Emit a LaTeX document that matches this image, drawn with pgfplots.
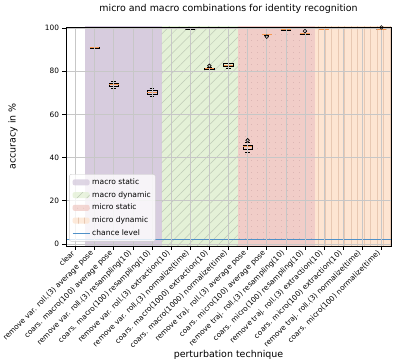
\documentclass[border=0pt]{standalone}
\usepackage{fontspec}
\setmainfont{DejaVu Sans}
\usepackage{pgfplots}
\pgfplotsset{compat=1.18}
\usepgfplotslibrary{statistics}
\usetikzlibrary{patterns.meta}

\definecolor{macstat}{RGB}{215,204,222}
\definecolor{macdyn}{RGB}{228,241,215}
\definecolor{micstat}{RGB}{241,205,200}
\definecolor{micdyn}{RGB}{253,229,210}
\definecolor{hatchgreen}{RGB}{190,202,182}
\definecolor{hatchred}{RGB}{205,165,165}
\definecolor{hatchorange}{RGB}{232,200,178}
\definecolor{medorange}{RGB}{245,150,80}
\definecolor{chanceblue}{RGB}{80,145,200}

\pgfplotsset{
  spanleg/.style={legend image code/.code={\fill[##1] (0bp,-3bp) rectangle (17bp,3bp);}},
  bx/.style={black, line width=0.6bp, mark=o, mark size=1.8bp, forget plot},
}

\begin{document}
\begin{tikzpicture}
\begin{axis}[
  at={(0,0)}, anchor=south west,
  scale only axis, width=325bp, height=219bp,
  xmin=-0.5, xmax=16.5, ymin=-1, ymax=100.5,
  xtick={0,...,16},
  xticklabels={{clear},
    {remove var. roll.(3) average pose},
    {coars. macro(100) average pose},
    {remove var. roll.(3) resampling(10)},
    {coars. macro(100) resampling(10)},
    {remove var. roll.(3) extraction(10)},
    {remove var. roll.(3) normalize(time)},
    {coars. macro(1000) extraction(10)},
    {coars. macro(1000) normalize(time)},
    {remove traj. roll.(3) average pose},
    {coars. micro(100) average pose},
    {remove traj. roll.(3) resampling(10)},
    {coars. micro(100) resampling(10)},
    {remove traj. roll.(3) extraction(10)},
    {coars. micro(100) extraction(10)},
    {remove traj. roll.(3) normalize(time)},
    {coars. micro(100) normalize(time)}},
  ytick={0,20,...,100},
  /pgf/number format/assume math mode=true,
  tick align=outside, major tick length=3.5bp,
  xtick pos=left, ytick pos=left,
  tick style={black, line width=0.6bp},
  ticklabel style={font=\fontsize{7.4}{8.8}\selectfont},
  xticklabel style={rotate=45, anchor=east},
  grid=major, grid style={draw=black!22, line width=0.6bp},
  axis on top,
  axis line style={line width=0.7bp},
  title={micro and macro combinations for identity recognition},
  title style={font=\fontsize{9.5}{11}\selectfont, at={(0.5,1)}, anchor=base, yshift=10bp},
  xlabel={perturbation technique},
  xlabel style={font=\fontsize{9.5}{11}\selectfont, at={(axis description cs:0.5,0)}, anchor=base, yshift=-111bp},
  ylabel={accuracy in \%},
  ylabel style={font=\fontsize{9.5}{11}\selectfont, at={(axis description cs:0,0.5)}, anchor=center, yshift=53bp},
  legend cell align=left,
  legend style={at={(0.01,0.02)}, anchor=south west,
    font=\fontsize{7.6}{9}\selectfont, draw=black!20, rounded corners=2bp,
    fill=white, fill opacity=0.8, text opacity=1, draw opacity=1, inner sep=2.5bp, row sep=1.5bp},
  boxplot/draw direction=y,
  boxplot/box extend=0.5,
  boxplot/whisker extend=0.25,
  boxplot/every median/.style={draw=medorange, line width=0.9bp},
]
% ---- background spans ----
\addplot[fill=macstat, draw=none, spanleg]
  coordinates {(0.5,-5) (0.5,105) (4.5,105) (4.5,-5)};
\addlegendentry{macro static}
\addplot[fill=macdyn, draw=none, spanleg,
  postaction={pattern={Lines[angle=45,distance=7bp,line width=0.5bp]}, pattern color=hatchgreen}]
  coordinates {(4.5,-5) (4.5,105) (8.5,105) (8.5,-5)};
\addlegendentry{macro dynamic}
\addplot[fill=micstat, draw=none, spanleg,
  postaction={pattern={Dots[distance=6bp,radius=0.45bp]}, pattern color=hatchred}]
  coordinates {(8.5,-5) (8.5,105) (12.5,105) (12.5,-5)};
\addlegendentry{micro static}
\addplot[fill=micdyn, draw=none, spanleg,
  postaction={pattern={Lines[angle=90,distance=6.5bp,line width=0.5bp]}, pattern color=hatchorange}]
  coordinates {(12.5,-5) (12.5,105) (16.5,105) (16.5,-5)};
\addlegendentry{micro dynamic}
% ---- boxes ----
\addplot[bx, boxplot prepared={draw position=0, lower whisker=100, lower quartile=100, median=100, upper quartile=100, upper whisker=100}] coordinates {};
\addplot[bx, boxplot prepared={draw position=1, lower whisker=90.7, lower quartile=90.8, median=91.0, upper quartile=91.2, upper whisker=91.3}] coordinates {};
\addplot[bx, boxplot prepared={draw position=2, lower whisker=72.2, lower quartile=73.2, median=73.8, upper quartile=74.6, upper whisker=75.2}] coordinates {};
\addplot[bx, boxplot prepared={draw position=3, lower whisker=100, lower quartile=100, median=100, upper quartile=100, upper whisker=100}] coordinates {};
\addplot[bx, boxplot prepared={draw position=4, lower whisker=68.2, lower quartile=69.5, median=70.3, upper quartile=71.3, upper whisker=72.2}] coordinates {};
\addplot[bx, boxplot prepared={draw position=5, lower whisker=100, lower quartile=100, median=100, upper quartile=100, upper whisker=100}] coordinates {};
\addplot[bx, boxplot prepared={draw position=6, lower whisker=99.6, lower quartile=99.6, median=99.6, upper quartile=99.6, upper whisker=99.6}] coordinates {};
\addplot[bx, boxplot prepared={draw position=7, lower whisker=81.0, lower quartile=81.1, median=81.3, upper quartile=81.5, upper whisker=81.7}] coordinates {(7,82.5)};
\addplot[bx, boxplot prepared={draw position=8, lower whisker=81.5, lower quartile=82.3, median=82.5, upper quartile=83.6, upper whisker=83.7}] coordinates {};
\addplot[bx, boxplot prepared={draw position=9, lower whisker=42.4, lower quartile=44.0, median=45.0, upper quartile=45.9, upper whisker=47.2}] coordinates {(9,48.0)};
\addplot[bx, boxplot prepared={draw position=10, lower whisker=96.6, lower quartile=96.9, median=97.1, upper quartile=97.2, upper whisker=97.3}] coordinates {(10,96.0)};
\addplot[bx, boxplot prepared={draw position=11, lower whisker=99.0, lower quartile=99.1, median=99.2, upper quartile=99.4, upper whisker=99.5}] coordinates {};
\addplot[bx, boxplot prepared={draw position=12, lower whisker=97.2, lower quartile=97.3, median=97.4, upper quartile=97.5, upper whisker=97.7}] coordinates {(12,98.6)};
\addplot[bx, boxplot prepared={draw position=13, lower whisker=99.5, lower quartile=99.5, median=99.5, upper quartile=99.5, upper whisker=99.5}] coordinates {};
\addplot[bx, boxplot prepared={draw position=14, lower whisker=99.8, lower quartile=99.8, median=99.8, upper quartile=99.8, upper whisker=99.8}] coordinates {};
\addplot[bx, boxplot prepared={draw position=15, lower whisker=99.8, lower quartile=99.8, median=99.8, upper quartile=99.8, upper whisker=99.8}] coordinates {};
\addplot[bx, boxplot prepared={draw position=16, lower whisker=99.5, lower quartile=99.5, median=99.5, upper quartile=99.5, upper whisker=99.5}] coordinates {(16,100.3)};
% ---- chance level ----
\addplot[draw=chanceblue, solid, line width=1.3bp, mark=none, sharp plot,
  legend image code/.code={\draw[draw=chanceblue, line width=1.3bp] (0bp,0bp) -- (17bp,0bp);}]
  coordinates {(-0.5,2) (16.5,2)};
\addlegendentry{chance level}
\end{axis}
\pgfresetboundingbox
\path[use as bounding box] (-66bp,-118bp) rectangle (329bp,246bp);
\end{tikzpicture}
\end{document}
